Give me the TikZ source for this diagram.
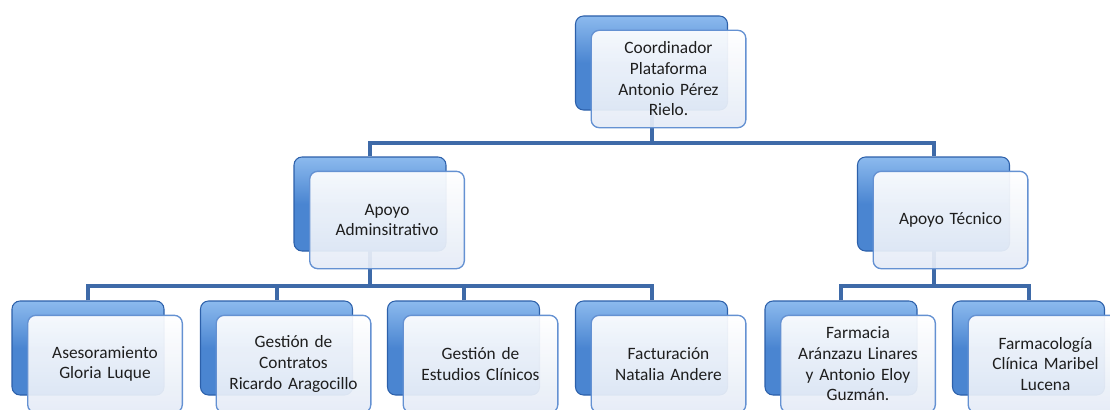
\documentclass[tikz,border=0pt]{standalone}
\usepackage{fontspec}
\setmainfont{Carlito}
\usepackage{tikz}
\usetikzlibrary{calc}
\usetikzlibrary{positioning}
\definecolor{BoxBlue}{RGB}{74,133,209}
\definecolor{BoxBlueLight}{RGB}{140,186,238}
\definecolor{BoxBlueDark}{RGB}{44,96,170}
\definecolor{FrontEdge}{RGB}{100,145,210}
\definecolor{FrontLow}{RGB}{228,235,246}
\definecolor{LinkBlue}{RGB}{62,106,168}
\definecolor{TextGray}{RGB}{30,30,30}
\pgfdeclarelayer{background}
\pgfsetlayers{background,main}
\tikzset{
	backbox/.style={rectangle, rounded corners=6pt, minimum width=114pt, minimum height=70.5pt,
		top color=BoxBlueLight, bottom color=BoxBlue, middle color=BoxBlue,
		draw=BoxBlueDark, line width=0.8pt, inner sep=0pt},
	frontbox/.style={rectangle, rounded corners=6pt, minimum width=116pt, minimum height=73pt,
		top color=white, bottom color=FrontLow, fill opacity=0.93, text opacity=1,
		draw=FrontEdge, line width=1pt, align=center, text width=110pt,
		font=\fontsize{13}{15.5}\selectfont, text=TextGray, inner sep=0pt},
	link/.style={draw=LinkBlue, line width=3pt}
}
\newcommand{\orgBox}[3]{%
		\node [backbox] (#1b) at #2 {};
		\node [frontbox] (#1) at ($#2+(17,16)$) {#3};
}

\begin{document}
\begin{tikzpicture}[x=0.75pt,y=-0.75pt]
		\useasboundingbox (0,0) rectangle (1110,410);
		\clip (0,0) rectangle (1110,410);
	
		\orgBox{coord}{(651.5,63)}{Coordinador\\Plataforma\\Antonio Pérez\\Rielo.}
		
		\orgBox{adm}{(370,204)}{Apoyo\\Adminsitrativo}
		\orgBox{tec}{(933.5,204)}{Apoyo Técnico}
		
		\orgBox{ase}{(88,348)}{Asesoramiento\\Gloria Luque}
		\orgBox{con}{(276.5,348)}{Gestión de\\Contratos\\Ricardo Aragocillo}
		\orgBox{est}{(463.5,348)}{Gestión de\\Estudios Clínicos}
		\orgBox{fac}{(651.5,348)}{Facturación\\Natalia Andere}
		\orgBox{far}{(841,348)}{Farmacia\\Aránzazu Linares\\y Antonio Eloy\\Guzmán.}
		\orgBox{fcl}{(1028.5,348)}{Farmacología\\Clínica Maribel\\Lucena}
		
		\coordinate (busTop) at (0,143);
		\coordinate (busLow) at (0,286);
		
		\begin{pgfonlayer}{background}
			\draw [link] (coordb.center) -- (coordb.center |- busTop);
			\draw [link] (admb.north) -- (admb.north |- busTop) -| (tecb.north);
			
			\draw [link] (admb.center) -- (admb.center |- busLow);
			\draw [link] (aseb.north) -- (aseb.north |- busLow) -| (facb.north);
			\draw [link] (conb.north) -- (conb.north |- busLow);
			\draw [link] (estb.north) -- (estb.north |- busLow);
			
			\draw [link] (tecb.center) -- (tecb.center |- busLow);
			\draw [link] (farb.north) -- (farb.north |- busLow) -| (fclb.north);
		\end{pgfonlayer}
	\end{tikzpicture}
\end{document}
